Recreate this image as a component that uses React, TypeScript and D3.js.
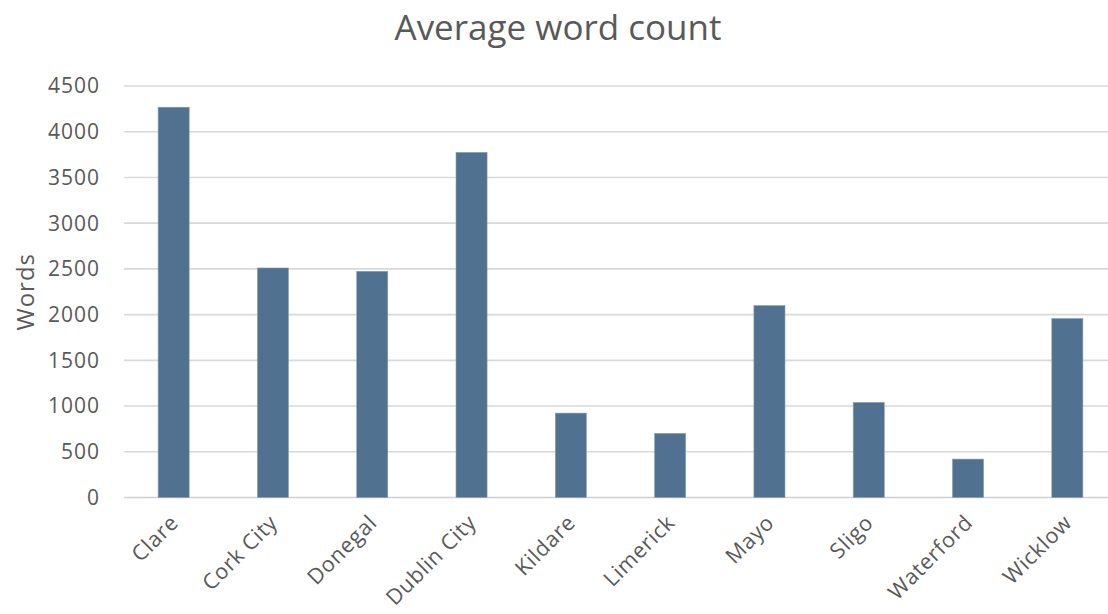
import React from "react";
import * as d3 from "d3";

const categories = ["Clare", "Cork City", "Donegal", "Dublin City", "Kildare", "Limerick", "Mayo", "Sligo", "Waterford", "Wicklow"];
const wordCounts = [4268, 2510, 2474, 3774, 923, 701, 2099, 1040, 420, 1957];
const yTicks = [0, 500, 1000, 1500, 2000, 2500, 3000, 3500, 4000, 4500];
const title = "Average word count";
const yLabel = "Words";

const W = 1108;
const H = 614;
const FONT = "'Open Sans', 'Liberation Sans', sans-serif";
const TEXT = "#595959";

export default function App() {
  const x = d3
    .scaleBand<string>()
    .domain(categories)
    .range([124, 1117])
    .paddingInner(0.687)
    .paddingOuter(0.3435);
  const y = d3.scaleLinear().domain([0, 4500]).range([497.5, 86]);

  return (
    <svg
      width={W}
      height={H}
      style={{ position: "absolute", left: 0, top: 0, background: "#fff" }}
      fontFamily={FONT}
    >
      <rect width={W} height={H} fill="#fff" />
      <text x={558} y={40} textAnchor="middle" fontSize={35} fill={TEXT}>
        {title}
      </text>
      {yTicks.map((t) => (
        <g key={t}>
          <line x1={124} x2={W} y1={y(t)} y2={y(t)} stroke={t === 0 ? "#d0d0d0" : "#d9d9d9"} strokeWidth={1.6} />
          <text x={100} y={y(t)} dy="0.35em" textAnchor="end" fontSize={21} letterSpacing={1} fill={TEXT}>
            {t}
          </text>
        </g>
      ))}
      <text
        transform={`translate(24,${(y(0) + y(4500)) / 2}) rotate(-90)`}
        textAnchor="middle"
        dominantBaseline="central"
        fontSize={24}
        letterSpacing={1}
        fill={TEXT}
      >
        {yLabel}
      </text>
      {categories.map((c, i) => (
        <rect
          key={c}
          x={x(c)!}
          y={y(wordCounts[i])}
          width={x.bandwidth()}
          height={y(0) - y(wordCounts[i])}
          fill="#50718f"
          stroke="#8aa0b5"
          strokeWidth={0.6}
        />
      ))}
      {categories.map((c) => {
        const cx = x(c)! + x.bandwidth() / 2;
        return (
          <text
            key={c + "-l"}
            transform={`translate(${cx},${518}) rotate(-45)`}
            textAnchor="end"
            dominantBaseline="central"
            fontSize={21.5}
            letterSpacing={0.7}
            fill={TEXT}
          >
            {c}
          </text>
        );
      })}
    </svg>
  );
}
